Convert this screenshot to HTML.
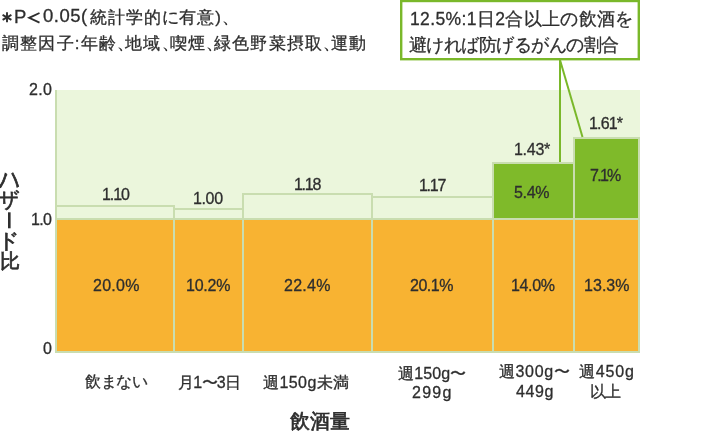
<!DOCTYPE html>
<html lang="ja">
<head>
<meta charset="utf-8">
<style>
html,body{margin:0;padding:0;background:#fff;}
body{width:708px;height:431px;position:relative;overflow:hidden;font-family:"Liberation Sans",sans-serif;color:#2e2e2e;}
.t{position:absolute;white-space:nowrap;line-height:1;}
.c{margin-right:-0.5em;}
.c2{margin-right:-0.6em;}
.t{will-change:transform;-webkit-text-stroke:0.3px #2e2e2e;}
.bd{-webkit-text-stroke:0.7px #2e2e2e;}
svg{position:absolute;left:0;top:0;}
</style>
</head>
<body>
<svg width="708" height="431" viewBox="0 0 708 431">
  <rect x="55" y="90" width="585" height="263" fill="#EBF6DC"/>
  <rect x="55" y="218" width="585" height="135" fill="#C9DDB0"/>
  <rect x="57" y="220" width="581" height="131" fill="#F8B332"/>
  <rect x="55" y="90" width="2" height="263" fill="#C9DDB0"/>
  <rect x="55" y="205" width="120" height="2" fill="#C9DDB0"/>
  <rect x="173" y="208" width="71" height="2" fill="#C9DDB0"/>
  <rect x="242" y="193" width="131" height="2" fill="#C9DDB0"/>
  <rect x="371" y="196" width="123" height="2" fill="#C9DDB0"/>
  <rect x="492" y="162" width="83" height="2" fill="#C9DDB0"/>
  <rect x="573" y="137" width="67" height="2" fill="#C9DDB0"/>
  <rect x="494" y="164" width="79" height="54" fill="#7FBA2A"/>
  <rect x="575" y="139" width="63" height="79" fill="#7FBA2A"/>
  <rect x="173" y="205" width="2" height="148" fill="#C9DDB0"/>
  <rect x="242" y="193" width="2" height="160" fill="#C9DDB0"/>
  <rect x="371" y="193" width="2" height="160" fill="#C9DDB0"/>
  <rect x="492" y="162" width="2" height="191" fill="#C9DDB0"/>
  <rect x="573" y="137" width="2" height="216" fill="#C9DDB0"/>
  <rect x="638" y="137" width="2" height="216" fill="#C9DDB0"/>
  <rect x="401.2" y="1" width="237.6" height="58.2" fill="#fff" stroke="#7AB82A" stroke-width="2.4"/>
  <line x1="560" y1="60" x2="560" y2="162" stroke="#7AB82A" stroke-width="2"/>
  <line x1="560" y1="60" x2="582.5" y2="137" stroke="#7AB82A" stroke-width="2"/>
  <g stroke="#2e2e2e" stroke-width="1.9" fill="none">
    <line x1="7" y1="12.3" x2="7" y2="22.3"/>
    <line x1="2.6" y1="14.8" x2="11.4" y2="19.8"/>
    <line x1="2.6" y1="19.8" x2="11.4" y2="14.8"/>
    <polyline points="39.5,13 29.2,17.8 39.5,22.6"/>
  </g>
  <rect x="8" y="212.3" width="2.6" height="16" fill="#2e2e2e"/>
</svg>

<div class="t" style="left:13.52px;top:8.12px;font-size:18.5px;">P</div>
<div class="t" style="left:43.04px;top:7.00px;font-size:18.5px;letter-spacing:0.52px;">0.05(</div>
<div class="t" style="left:89.80px;top:9.40px;font-size:17px;letter-spacing:0.88px;">統計学的に有意)<span class="c2">、</span></div>
<div class="t" style="left:2.00px;top:34.96px;font-size:17px;letter-spacing:1.20px;">調整因子:年齢<span class="c2">、</span>地域<span class="c2">、</span>喫煙<span class="c2">、</span>緑色野菜摂取<span class="c2">、</span>運動</div>
<div class="t" style="left:409.88px;top:10.80px;font-size:17.5px;letter-spacing:0.37px;">12.5%:1日2合以上の飲酒を</div>
<div class="t" style="left:408.92px;top:36.84px;font-size:17.5px;letter-spacing:-0.51px;">避ければ防げるがんの割合</div>
<div class="t" style="left:28.60px;top:82.00px;font-size:16px;letter-spacing:0.32px;">2.0</div>
<div class="t" style="left:31.04px;top:212.04px;font-size:16px;letter-spacing:-0.72px;">1.0</div>
<div class="t" style="left:43.08px;top:341.04px;font-size:16px;">0</div>
<div class="t bd" style="left:-1.28px;top:164.92px;font-size:21px;transform:scale(1.000,1.300);transform-origin:0 0;">ハ</div>
<div class="t bd" style="left:-2.08px;top:189.16px;font-size:21px;">ザ</div>
<div class="t bd" style="left:-1.60px;top:229.52px;font-size:21px;">ド</div>
<div class="t bd" style="left:-0.32px;top:250.68px;font-size:20px;">比</div>
<div class="t" style="left:102.20px;top:186.76px;font-size:16px;letter-spacing:-1.07px;">1.10</div>
<div class="t" style="left:192.60px;top:191.20px;font-size:16px;letter-spacing:-0.37px;">1.00</div>
<div class="t" style="left:294.08px;top:176.76px;font-size:16px;letter-spacing:-1.28px;">1.18</div>
<div class="t" style="left:418.52px;top:178.28px;font-size:16px;letter-spacing:-1.28px;">1.17</div>
<div class="t" style="left:514.28px;top:142.20px;font-size:16px;letter-spacing:-0.28px;">1.43*</div>
<div class="t" style="left:588.76px;top:116.08px;font-size:16px;letter-spacing:-0.84px;">1.61*</div>
<div class="t" style="left:514.04px;top:184.56px;font-size:16px;letter-spacing:-0.32px;">5.4%</div>
<div class="t" style="left:589.72px;top:168.40px;font-size:16px;letter-spacing:-1.71px;">7.1%</div>
<div class="t" style="left:92.68px;top:278.00px;font-size:16px;letter-spacing:0.28px;">20.0%</div>
<div class="t" style="left:186.24px;top:278.00px;font-size:16px;letter-spacing:-0.24px;">10.2%</div>
<div class="t" style="left:283.60px;top:278.00px;font-size:16px;letter-spacing:0.28px;">22.4%</div>
<div class="t" style="left:409.76px;top:278.00px;font-size:16px;letter-spacing:-0.48px;">20.1%</div>
<div class="t" style="left:510.68px;top:278.00px;font-size:16px;letter-spacing:-0.36px;">14.0%</div>
<div class="t" style="left:583.84px;top:278.00px;font-size:16px;letter-spacing:0.04px;">13.3%</div>
<div class="t" style="left:84.92px;top:374.40px;font-size:16px;letter-spacing:-0.27px;">飲まない</div>
<div class="t" style="left:177.92px;top:374.80px;font-size:16px;letter-spacing:-0.68px;">月1〜3日</div>
<div class="t" style="left:263.36px;top:375.40px;font-size:16px;letter-spacing:0.43px;">週150g未満</div>
<div class="t" style="left:398.00px;top:366.00px;font-size:16px;letter-spacing:0.13px;">週150g〜</div>
<div class="t" style="left:412.20px;top:384.52px;font-size:16px;letter-spacing:1.28px;">299g</div>
<div class="t" style="left:498.60px;top:363.84px;font-size:16px;letter-spacing:0.61px;">週300g〜</div>
<div class="t" style="left:516.12px;top:384.32px;font-size:16px;letter-spacing:0.64px;">449g</div>
<div class="t" style="left:578.92px;top:363.84px;font-size:16px;letter-spacing:0.84px;">週450g</div>
<div class="t" style="left:589.68px;top:384.00px;font-size:16px;letter-spacing:-0.96px;">以上</div>
<div class="t bd" style="left:290.32px;top:410.92px;font-size:20px;">飲酒量</div>
</body>
</html>
